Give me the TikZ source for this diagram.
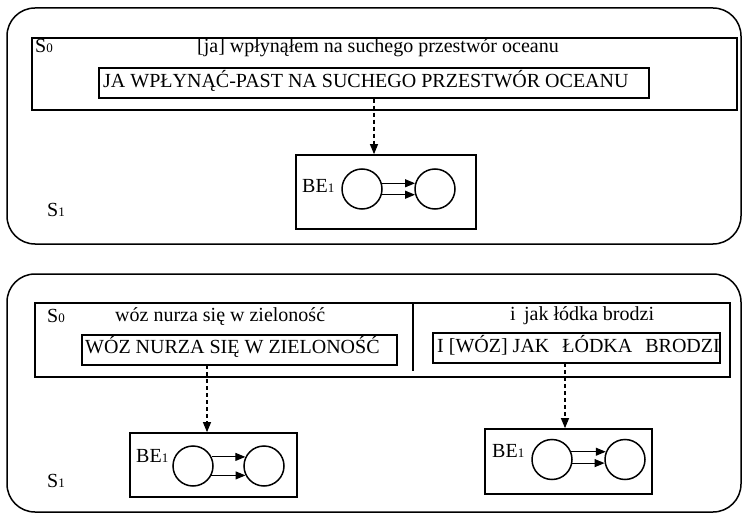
\documentclass[tikz,border=0pt]{standalone}
\usepackage{fontspec}
\setmainfont{Liberation Serif}
\usetikzlibrary{arrows.meta}
\newcommand\ix[1]{{\fontsize{13}{13}\selectfont #1}}

\begin{document}
\begin{tikzpicture}[x=1pt,y=-1pt,font=\fontsize{20}{23}\selectfont,
  panel/.style={draw,line width=1.5pt,rounded corners=28pt,minimum width=734pt},
  sbox/.style={draw,line width=1.5pt,inner sep=0pt},
  lbox/.style={draw,line width=1.5pt,inner sep=0pt,minimum height=30pt},
  bebox/.style={draw,line width=1.7pt,inner sep=0pt},
  st/.style={circle,draw,line width=1.5pt,minimum size=40pt,inner sep=0pt},
  lbl/.style={inner sep=0pt,anchor=base west},
  ar/.style={-{Triangle[length=10pt,width=8pt]},line width=1.1pt},
  dar/.style={ar,dash pattern=on 4pt off 3pt}]
  \useasboundingbox (0,0) rectangle (744,513);
  % top panel
  \node[panel,minimum height=236pt] (p1) at (374,126) {};
  \node[sbox,minimum width=705pt,minimum height=72pt] (s0a) at (384.5,74) {};
  \node[lbl] (l0a) at (35,53) {S\ix{0}};
  \node[lbl] (l1a) at (47,217) {S\ix{1}};
  \node[lbl] (sa) at (197,53) {[ja] wpłynąłem na suchego przestwór oceanu};
  \node[lbox,minimum width=550pt] (ia) at (374,83) {};
  \node[lbl] (ta) at (103,88) {JA WPŁYNĄĆ-PAST NA SUCHEGO PRZESTWÓR OCEANU};
  \node[bebox,minimum width=180pt,minimum height=74pt] (be1) at (386,192) {};
  \node[lbl] (b1) at (302,193) {BE\ix{1}};
  \node[st] (c1a) at (362,189) {};
  \node[st] (c1b) at (435,189) {};
  \draw[dar] (ia.south) -- (ia.south |- be1.north);
  \draw[ar] (c1a.16) -- (c1b.164);
  \draw[ar] (c1a.-16) -- (c1b.-164);
  % bottom panel
  \node[panel,minimum height=238pt] (p2) at (374,393) {};
  \node[sbox,minimum width=695pt,minimum height=74pt] (s0b) at (382.5,340) {};
  \coordinate (dv1) at (413,303);
  \coordinate (dv2) at (413,371);
  \draw[line width=1.1pt] (dv1) -- (dv2);
  \node[lbl] (l0b) at (47,322) {S\ix{0}};
  \node[lbl] (l1b) at (47,487) {S\ix{1}};
  \node[lbl] (sb) at (115,321) {wóz nurza się w zieloność};
  \node[lbl] (sc) at (510,320) {i\, jak łódka brodzi};
  \node[lbox,minimum width=315pt] (ib) at (239.5,350) {};
  \node[lbl] (tb) at (85,353) {WÓZ NURZA SIĘ W ZIELONOŚĆ};
  \node[lbox,minimum width=287pt] (ic) at (576.5,348) {};
  \node[lbl] (tc) at (437,352) {I [WÓZ] JAK\hspace{8pt} ŁÓDKA\hspace{8pt} BRODZI};
  \coordinate (qb) at (207,365);
  \coordinate (qc) at (565,363);
  \node[bebox,minimum width=167pt,minimum height=64pt] (be2) at (213.5,465) {};
  \node[bebox,minimum width=167pt,minimum height=65pt] (be3) at (568.5,461.5) {};
  \draw[dar] (qb) -- (qb |- be2.north);
  \draw[dar] (qc) -- (qc |- be3.north);
  \node[lbl] (b2) at (136,462) {BE\ix{1}};
  \node[st] (c2a) at (193,466) {};
  \node[st] (c2b) at (264,466) {};
  \draw[ar] (c2a.26) -- (c2b.154);
  \draw[ar] (c2a.-27) -- (c2b.-153);
  \node[lbl] (b3) at (492,457) {BE\ix{1}};
  \node[st] (c3a) at (552,459.5) {};
  \node[st] (c3b) at (625,459.5) {};
  \draw[ar] (c3a.22) -- (c3b.158);
  \draw[ar] (c3a.-10) -- (c3b.-170);
\end{tikzpicture}
\end{document}
